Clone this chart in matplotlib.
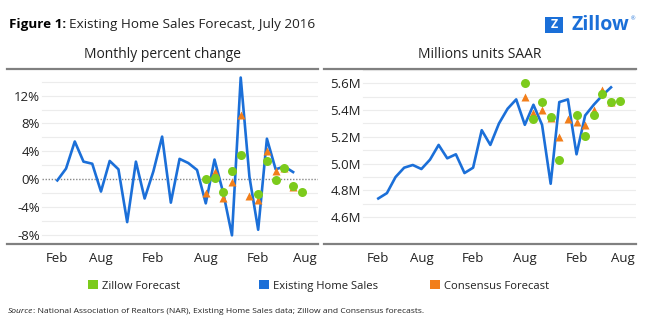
import matplotlib
matplotlib.use("Agg")
import matplotlib.pyplot as plt
import numpy as np
from matplotlib.patches import FancyBboxPatch, Rectangle

plt.rcParams['font.family'] = ['Open Sans', 'DejaVu Sans']

# month index 0 = Mar 2014
sales_pct = [-0.2, 1.5, 5.4, 2.5, 2.2, -1.8, 2.6, 1.4, -6.2, 2.5, -2.8, 1.1, 6.1, -3.4,
             2.9, 2.3, 1.3, -3.5, 2.8, -2.0, -8.1, 14.6, 0.3, -7.3, 5.8, 1.4, 1.8, 1.0]
sales_level = [4.74, 4.78, 4.90, 4.97, 4.99, 4.96, 5.03, 5.14, 5.04, 5.07, 4.93, 4.97, 5.25, 5.14,
               5.30, 5.41, 5.48, 5.29, 5.44, 5.29, 4.85, 5.46, 5.48, 5.07, 5.36, 5.44, 5.51, 5.57]

# forecasts, month index 17 (Aug 2015) .. 28 (Jul 2016)
zillow_pct = [0.0, 0.2, -1.9, 1.1, 3.5, np.nan, -2.2, 2.6, -0.1, 1.6, -1.0, -1.9]
consensus_pct = [-2.0, 1.0, -2.8, -0.5, 9.2, -2.5, -3.0, 4.1, 1.2, 1.6, -1.2, np.nan]
zillow_level = [5.60, 5.33, 5.46, 5.35, 5.03, np.nan, 5.36, 5.21, 5.36, 5.52, 5.46, 5.47]
consensus_level = [5.50, 5.38, 5.40, 5.34, 5.20, 5.33, 5.31, 5.29, 5.40, 5.55, 5.46, np.nan]

tick_pos = [0, 5, 11, 17, 23, 28.4]
tick_labels = ['Feb', 'Aug', 'Feb', 'Aug', 'Feb', 'Aug']

BLUE = '#1b6fd8'
GREEN = '#7ccb1c'
ORANGE = '#f27e1a'
GRAY = '#808080'
TXT = '#222222'

months = np.arange(len(sales_pct))
fc_months = np.arange(17, 17 + len(zillow_pct))

fig = plt.figure(figsize=(6.45, 3.32), dpi=100)
W, H = 645.0, 332.0


def make_axes(x0, x1):
    return fig.add_axes([x0 / W, 1 - 244 / H, (x1 - x0) / W, 175 / H])


def style(ax, yticks, ylabels, grid, grid_start, label_off):
    ax.set_yticks(yticks)
    ax.set_yticklabels(ylabels)
    ax.set_xticks(tick_pos)
    ax.set_xticklabels(tick_labels)
    for s in ['left', 'right']:
        ax.spines[s].set_visible(False)
    for s in ['top', 'bottom']:
        ax.spines[s].set_color(GRAY)
        ax.spines[s].set_linewidth(1.6)
    ax.tick_params(axis='y', length=0, pad=-label_off / 1.389, labelsize=9.5, labelcolor=TXT)
    ax.tick_params(axis='x', length=0, pad=6, labelsize=9.5, labelcolor=TXT)
    for g in grid:
        ax.axhline(g, xmin=grid_start, xmax=1, color='#ececec', lw=0.8, zorder=0)


# left panel
ax1 = make_axes(7, 318)
ax1.set_xlim(-5.76, 29.85)
ax1.set_ylim(-9.35, 15.83)
style(ax1, [-8, -4, 0, 4, 8, 12], ['-8%', '-4%', '0%', '4%', '8%', '12%'],
      [g for g in np.arange(-8, 16, 2) if g != 0], 0.113, 33)
ax1.axhline(0, xmin=0.113, xmax=1, color='#888888', lw=1.0, ls=(0, (1, 1.2)), zorder=1)
ax1.plot(months, sales_pct, color=BLUE, lw=1.9, zorder=3)
ax1.plot(fc_months, consensus_pct, '^', color=ORANGE, ms=6, mec='none', zorder=4)
ax1.plot(fc_months, zillow_pct, 'o', color=GREEN, ms=6.5, mec='none', zorder=5)
ax1.set_title('Monthly percent change', fontsize=10, color=TXT, pad=8)

# right panel
ax2 = make_axes(324, 636)
ax2.set_xlim(-6.3, 29.9)
ax2.set_ylim(4.40, 5.707)
style(ax2, [4.6, 4.8, 5.0, 5.2, 5.4, 5.6], ['4.6M', '4.8M', '5.0M', '5.2M', '5.4M', '5.6M'],
      np.arange(4.6, 5.71, 0.1), 0.125, 37)
ax2.plot(months, sales_level, color=BLUE, lw=1.9, zorder=3)
ax2.plot(fc_months, consensus_level, '^', color=ORANGE, ms=6, mec='none', zorder=4)
ax2.plot(fc_months, zillow_level, 'o', color=GREEN, ms=6.5, mec='none', zorder=5)
ax2.set_title('Millions units SAAR', fontsize=10, color=TXT, pad=8)

# title
renderer = fig.canvas.get_renderer()
t = fig.text(9 / W, 1 - 28 / H, 'Figure 1:', fontsize=9.7, fontweight='bold', color='black', va='baseline')
bb = t.get_window_extent(renderer)
fig.text(bb.x1 / W + 3 / W, 1 - 28 / H, 'Existing Home Sales Forecast, July 2016', fontsize=9.7,
         color=TXT, va='baseline')

# logo
fig.patches.append(FancyBboxPatch((545 / W, 1 - 33 / H), 18 / W, 16 / H, boxstyle='square,pad=0',
                                  transform=fig.transFigure, fc='#1a6fd8', ec='none'))
fig.text(554 / W, 1 - 25 / H, 'Z', fontsize=9, fontweight='bold', color='white', ha='center', va='center')
fig.text(571 / W, 1 - 25 / H, 'Zillow', fontsize=14, fontweight='bold', color='#1a6fd8', va='center')
fig.text(631 / W, 1 - 19 / H, '®', fontsize=4, color='#1a6fd8', va='center')

# legend
for sq, label, col in [(88, 'Zillow Forecast', GREEN), (259, 'Existing Home Sales', BLUE),
                       (430, 'Consensus Forecast', ORANGE)]:
    fig.patches.append(Rectangle((sq / W, 1 - 289 / H), 10 / W, 9 / H, transform=fig.transFigure,
                                 fc=col, ec='none'))
    fig.text((sq + 14) / W, 1 - 289 / H, label, fontsize=8.1, color=TXT, va='baseline')

# source
s = fig.text(8 / W, 1 - 313 / H, 'Source', fontsize=6.1, style='italic', color=TXT, va='baseline')
bb = s.get_window_extent(renderer)
fig.text(bb.x1 / W, 1 - 313 / H,
         ': National Association of Realtors (NAR), Existing Home Sales data; Zillow and Consensus forecasts.',
         fontsize=6.1, color=TXT, va='baseline')

fig.savefig('out.png', dpi=100)
